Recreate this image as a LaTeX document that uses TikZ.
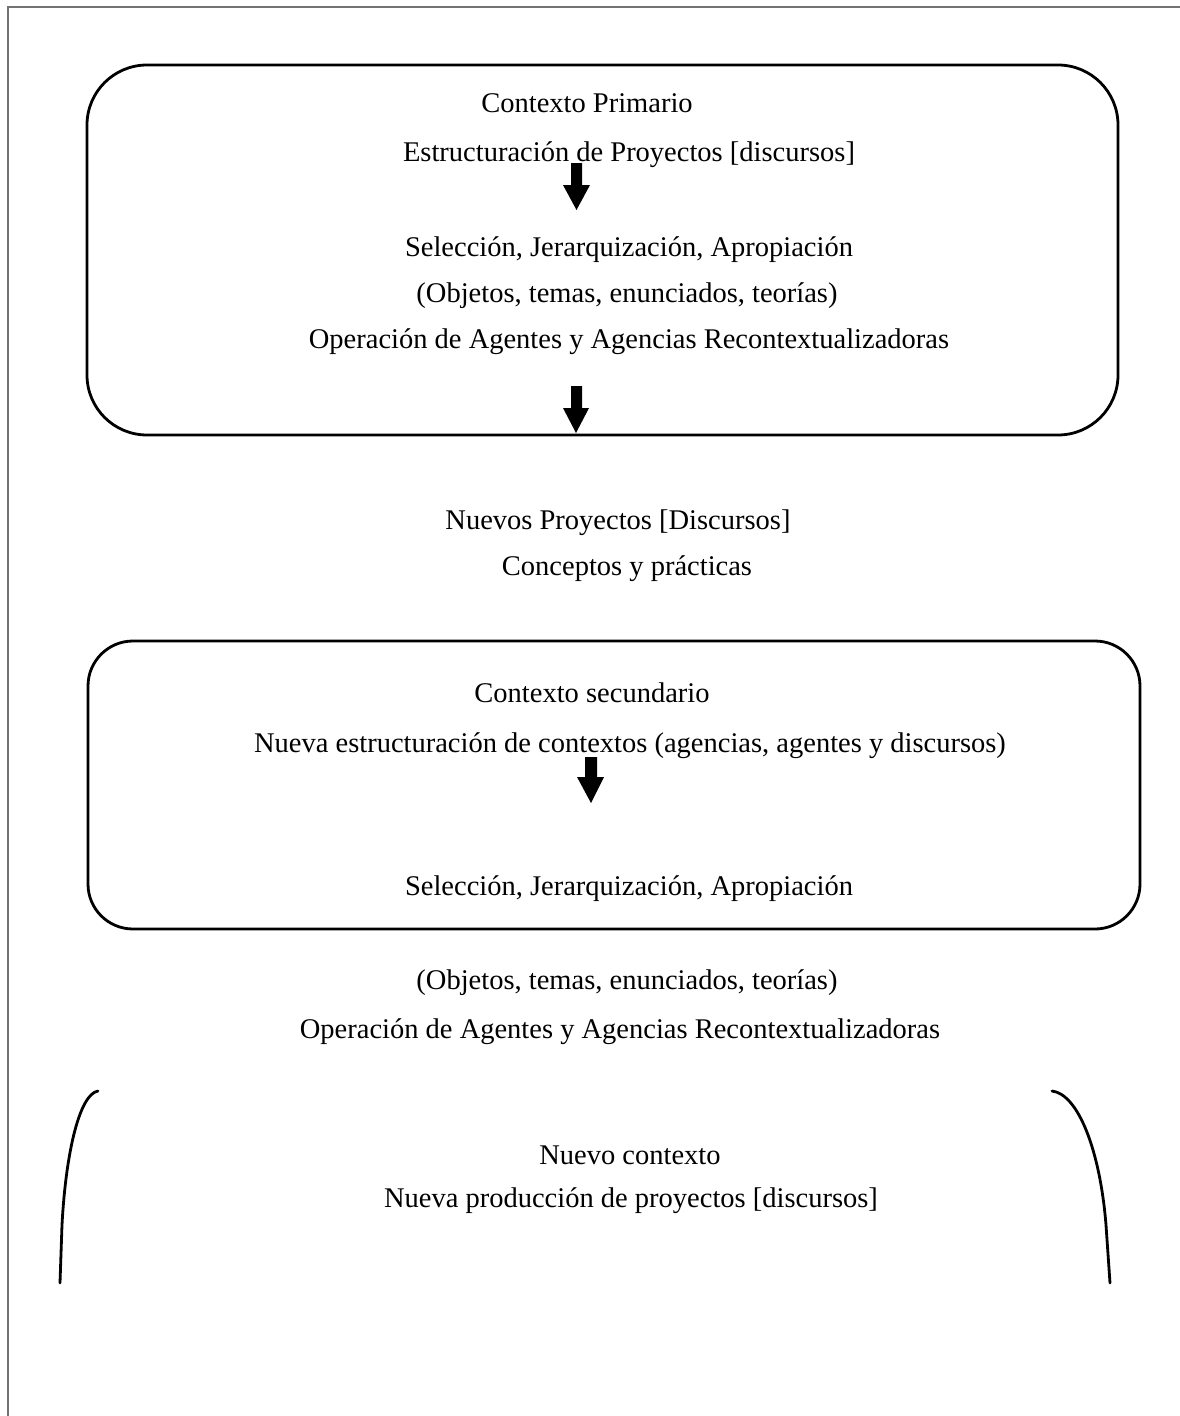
\documentclass[tikz,border=0pt]{standalone}
\usepackage{fontspec}
\setmainfont{Liberation Serif}
\begin{document}
\begin{tikzpicture}[x=1pt,y=-1pt,
  txt/.style={inner sep=0pt, font=\fontsize{28.5}{34}\selectfont, anchor=center},
  boxline/.style={line width=2.8pt, black},
  blockarrow/.style={fill=black, draw=none},
  frameline/.style={line width=1.5pt, draw=black!55}]
\useasboundingbox (0,0) rectangle (1180,1416);
% frame
\draw[frameline] (8,1416) -- (8,7) -- (1180,7);
% box 1
\draw[boxline, rounded corners=60pt] (87,65) rectangle (1118,435);
\node[txt] (t1) at (587,103) {Contexto Primario};
\node[txt] (t2) at (629,155) {Estructuración de Proyectos [discursos]};
\node[txt] (t3) at (629,250) {Selección, Jerarquización, Apropiación};
\node[txt] (t4) at (627,296) {(Objetos, temas, enunciados, teorías)};
\node[txt] (t5) at (629,342) {Operación de Agentes y Agencias Recontextualizadoras};
% arrows in box 1
\fill[blockarrow] (571,163) -- (582,163) -- (582,185) -- (590,185) -- (576.5,210) -- (563,185) -- (571,185) -- cycle;
\fill[blockarrow] (571,386) -- (582,386) -- (582,408) -- (589,408) -- (576,433) -- (563,408) -- (571,408) -- cycle;
% middle text
\node[txt] (t6) at (618,523) {Nuevos Proyectos [Discursos]};
\node[txt] (t7) at (627,569) {Conceptos y prácticas};
% box 2
\draw[boxline, rounded corners=45pt] (88,641) rectangle (1140,929);
\node[txt] (t8) at (592,693) {Contexto secundario};
\node[txt] (t9) at (630,746) {Nueva estructuración de contextos (agencias, agentes y discursos)};
\fill[blockarrow] (585,757) -- (597,757) -- (597,777) -- (604,777) -- (591,803) -- (577,777) -- (585,777) -- cycle;
\node[txt] (t10) at (629,889) {Selección, Jerarquización, Apropiación};
% after box 2
\node[txt] (t11) at (627,983) {(Objetos, temas, enunciados, teorías)};
\node[txt] (t12) at (620,1032) {Operación de Agentes y Agencias Recontextualizadoras};
% bracket
\draw[boxline, line cap=round] (98,1091) .. controls (80,1094) and (66,1150) .. (62,1225) -- (60,1283);
\draw[boxline, line cap=round] (1052,1091) .. controls (1078,1094) and (1100,1150) .. (1106,1225) -- (1110,1283);
\node[txt] (t13) at (630,1155) {Nuevo contexto};
\node[txt] (t14) at (631,1201) {Nueva producción de proyectos [discursos]};
\end{tikzpicture}
\end{document}
